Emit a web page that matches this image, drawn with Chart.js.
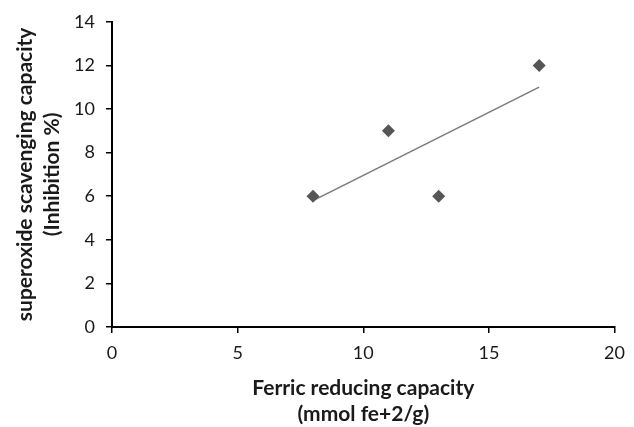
<!DOCTYPE html>
<html>
<head>
<meta charset="utf-8">
<script src="https://cdn.jsdelivr.net/npm/chart.js@4/dist/chart.umd.min.js"></script>
<style>
  html, body { margin: 0; padding: 0; background: #fff; }
  #wrap { width: 634px; height: 427px; }
</style>
</head>
<body>
<div id="wrap"><canvas id="scatterChart"></canvas></div>
<script>
// Values
const ferricValues = [8, 11, 13, 17];
const superoxideValues = [6, 9, 6, 12];
// Linear trend line end points (as drawn in the figure)
const trendX = [8, 17];
const trendY = [5.8, 11.0];

const xTicks = [0, 5, 10, 15, 20];
const yTicks = [0, 2, 4, 6, 8, 10, 12, 14];

const fontFamily = 'Lato, "Open Sans", sans-serif';

const points = ferricValues.map((x, i) => ({ x: x, y: superoxideValues[i] }));
const trend = trendX.map((x, i) => ({ x: x, y: trendY[i] }));

new Chart(document.getElementById('scatterChart').getContext('2d'), {
  type: 'scatter',
  data: {
    datasets: [
      {
        label: 'Trend',
        data: trend,
        showLine: true,
        borderColor: '#7a7a7a',
        borderWidth: 1.5,
        pointRadius: 0,
        order: 2
      },
      {
        label: 'Samples',
        data: points,
        pointStyle: 'rectRot',
        pointRadius: 6.5,
        backgroundColor: '#565656',
        borderColor: '#565656',
        borderWidth: 0,
        order: 1
      }
    ]
  },
  options: {
    responsive: true,
    maintainAspectRatio: false,
    animation: false,
    layout: { padding: { top: 20, right: 14, bottom: 0, left: 0 } },
    plugins: {
      legend: { display: false },
      tooltip: { enabled: false }
    },
    scales: {
      x: {
        type: 'linear',
        min: 0,
        max: 20,
        afterBuildTicks: (scale) => { scale.ticks = xTicks.map(v => ({ value: v })); },
        afterFit: (scale) => { scale.height = 100; },
        border: { display: true, color: '#000', width: 2 },
        grid: { drawOnChartArea: false, drawTicks: true, tickLength: 6, color: '#000', lineWidth: 1.5 },
        ticks: { color: '#1a1a1a', padding: 9, font: { family: fontFamily, size: 18 } },
        title: {
          display: true,
          text: ['Ferric reducing capacity', '(mmol fe+2/g)'],
          color: '#1a1a1a',
          padding: { top: 0, bottom: 0 },
          font: { family: fontFamily, size: 21, weight: 'bold', lineHeight: 1.24 }
        }
      },
      y: {
        type: 'linear',
        min: 0,
        max: 14,
        afterBuildTicks: (scale) => { scale.ticks = yTicks.map(v => ({ value: v })); },
        afterFit: (scale) => { scale.width = 112; },
        border: { display: true, color: '#000', width: 2 },
        grid: { drawOnChartArea: false, drawTicks: true, tickLength: 6, color: '#000', lineWidth: 1.5 },
        ticks: { color: '#1a1a1a', padding: 11, font: { family: fontFamily, size: 18 } },
        title: {
          display: true,
          text: ['superoxide scavenging capacity', '(Inhibition %)'],
          color: '#1a1a1a',
          padding: { top: 11.5, bottom: 0 },
          font: { family: fontFamily, size: 21, weight: 'bold', lineHeight: 1.29 }
        }
      }
    }
  }
});
</script>
</body>
</html>
